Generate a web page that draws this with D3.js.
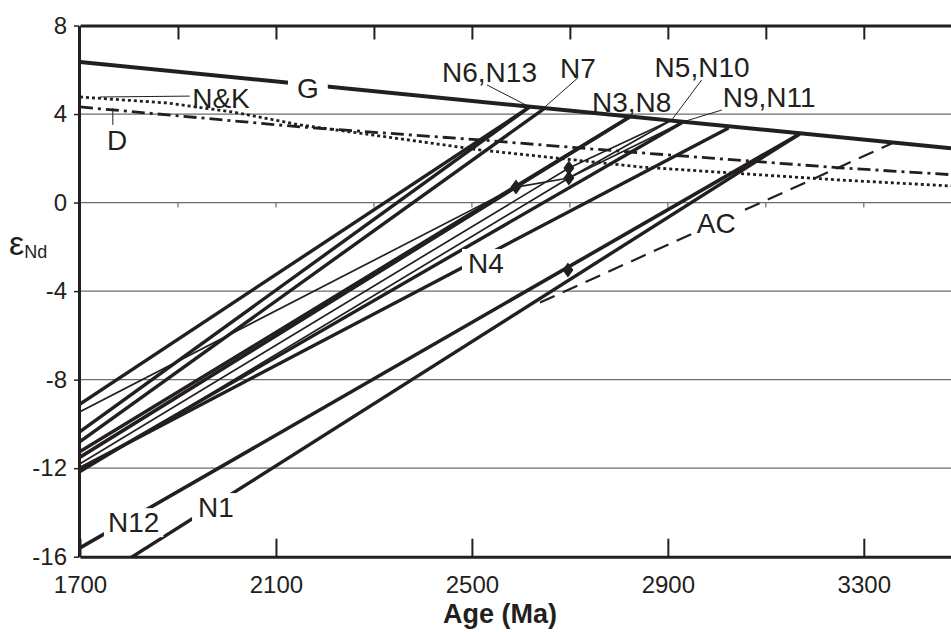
<!DOCTYPE html>
<html>
<head>
<meta charset="utf-8">
<script src="https://cdn.jsdelivr.net/npm/d3@7"></script>
<style>
body { margin: 0; background: #fff; }
text { font-family: "Liberation Sans", Arial, Helvetica, sans-serif; fill: #231f20; }
</style>
</head>
<body>
<div id="container"></div>
<script>
// axis ticks
const xTicks = [1700, 2100, 2500, 2900, 3300];
const topTicks = [1900, 2100, 2300, 2500, 2700, 2900, 3100, 3300];
const yTicks = [-16, -12, -8, -4, 0, 4, 8];
const gridValues = [-12, -8, -4, 0, 4];

// mantle evolution models [age Ma, eNd]
const modelG = [[1700, 6.35], [3478, 2.45]];
const modelD = [[1700, 4.32], [2149, 3.42], [2516, 2.83], [2843, 2.25], [3251, 1.57], [3478, 1.26]];
const modelNK = [[1700, 4.77], [1878, 4.50], [2012, 4.09], [2149, 3.51], [2516, 2.38], [2843, 1.61], [3027, 1.34], [3251, 1.02], [3478, 0.75]];

// sample evolution lines
const N1 = [[1700, -17.5], [3169, 3.10]];
const N3 = [[1700, -11.25], [2822, 3.87]];
const N4 = [[1700, -12.0], [3024, 3.37]];
const N5 = [[1700, -9.45], [2590, 0.70], [2698, 1.11], [2908, 3.73]];
const N6 = [[1700, -9.1], [2618, 4.32]];
const N7 = [[1700, -10.8], [2649, 4.27]];
const N8 = [[1700, -11.5], [2590, 0.70], [2822, 3.87]];
const N9 = [[1700, -12.1], [2931, 3.64]];
const N10 = [[1700, -11.8], [2698, 1.56], [2908, 3.73]];
const N11 = [[1700, -12.2], [2698, 1.11], [2931, 3.64]];
const N12 = [[1700, -15.6], [3169, 3.10]];
const N13 = [[1700, -10.35], [2618, 4.32]];
const AC = [[2639, -4.52], [3359, 2.69]];

// crystallisation ages
const diamonds = [[2590, 0.70], [2698, 1.56], [2698, 1.11], [2696, -3.05]];

const width = 951;
const height = 632;

const x = d3.scaleLinear([1700, 3478], [80, 951]);
const y = d3.scaleLinear([-16, 8], [556.7, 25.5]);
const line = d3.line().x(d => x(d[0])).y(d => y(d[1]));

const ink = "#231f20";

const svg = d3.create("svg")
    .attr("width", width)
    .attr("height", height)
    .attr("viewBox", [0, 0, width, height]);

// attach first so getBBox works for the label backgrounds
document.getElementById("container").append(svg.node());

svg.append("defs").append("clipPath").attr("id", "plot")
    .append("rect")
    .attr("x", x(1700)).attr("y", y(8))
    .attr("width", x(3478) - x(1700)).attr("height", y(-16) - y(8));

// grid lines
svg.append("g")
    .selectAll("line")
    .data(gridValues)
    .join("line")
    .attr("x1", x(1700)).attr("x2", x(3478))
    .attr("y1", d => y(d)).attr("y2", d => y(d))
    .attr("stroke", "#6d6d6d")
    .attr("stroke-width", 1.2);

// small ticks on the zero line
svg.append("g")
    .selectAll("line")
    .data(topTicks)
    .join("line")
    .attr("x1", d => x(d)).attr("x2", d => x(d))
    .attr("y1", y(0)).attr("y2", y(0) + 5)
    .attr("stroke", "#6d6d6d")
    .attr("stroke-width", 1.2);

const plot = svg.append("g").attr("clip-path", "url(#plot)");

// models
plot.append("path").attr("d", line(modelNK))
    .attr("fill", "none").attr("stroke", ink).attr("stroke-width", 2.8)
    .attr("stroke-dasharray", "3,3");
plot.append("path").attr("d", line(modelD))
    .attr("fill", "none").attr("stroke", ink).attr("stroke-width", 2.8)
    .attr("stroke-dasharray", "13,5,3,5");
plot.append("path").attr("d", line(modelG))
    .attr("fill", "none").attr("stroke", ink).attr("stroke-width", 4);

// samples
const samples = [
    {pts: N6, w: 3.4}, {pts: N13, w: 3.4}, {pts: N7, w: 3.4},
    {pts: N3, w: 3.4}, {pts: N8, w: 3.6}, {pts: N5, w: 1.7},
    {pts: N10, w: 1.7}, {pts: N9, w: 3.4}, {pts: N11, w: 1.7},
    {pts: N4, w: 3.4}, {pts: N12, w: 3.6}, {pts: N1, w: 3.4}
];

plot.append("g")
    .selectAll("path")
    .data(samples)
    .join("path")
    .attr("d", d => line(d.pts))
    .attr("fill", "none")
    .attr("stroke", ink)
    .attr("stroke-width", d => d.w)
    .attr("stroke-linejoin", "round");

plot.append("path").attr("d", line(AC))
    .attr("fill", "none").attr("stroke", ink).attr("stroke-width", 2.2)
    .attr("stroke-dasharray", "16,9");

plot.append("g")
    .selectAll("path")
    .data(diamonds)
    .join("path")
    .attr("transform", d => `translate(${x(d[0])},${y(d[1])})`)
    .attr("d", "M0,-7.5L5.5,0L0,7.5L-5.5,0Z")
    .attr("fill", ink);

// labels, some of them cut a gap into the line under them
const labels = [
    {text: "G", at: [2143, 4.73], pad: [9, 2]},
    {text: "N&K", at: [1929, 4.27]},
    {text: "D", at: [1755, 2.38]},
    {text: "N6,N13", at: [2439, 5.45]},
    {text: "N7", at: [2680, 5.63]},
    {text: "N3,N8", at: [2745, 4.09]},
    {text: "N5,N10", at: [2873, 5.67]},
    {text: "N9,N11", at: [3012, 4.32]},
    {text: "N4", at: [2492, -3.18], pad: [6, 3]},
    {text: "N12", at: [1757, -14.89], pad: [4, 3]},
    {text: "N1", at: [1941, -14.21], pad: [6, 3]},
    {text: "AC", at: [2959, -1.38], pad: [5, 3]}
];

const leaders = [
    [[1741, 4.77], [1924, 4.81]],
    [[1767, 4.27], [1767, 3.51]],
    [[2531, 5.31], [2618, 4.32]],
    [[2716, 5.63], [2649, 4.32]],
    [[2969, 5.54], [2908, 3.73]],
    [[3010, 4.18], [2924, 3.60]]
];

svg.append("g")
    .selectAll("path")
    .data(leaders)
    .join("path")
    .attr("d", d => line(d))
    .attr("fill", "none")
    .attr("stroke", ink)
    .attr("stroke-width", 1);

const lab = svg.append("g");
labels.forEach(l => {
    const t = lab.append("text")
        .attr("x", x(l.at[0]))
        .attr("y", y(l.at[1]))
        .attr("font-size", 28)
        .text(l.text);
    if (l.pad) {
        const b = t.node().getBBox();
        lab.insert("rect", "text")
            .attr("x", b.x - l.pad[0]).attr("y", b.y + 4 - l.pad[1])
            .attr("width", b.width + 2 * l.pad[0]).attr("height", b.height - 8 + 2 * l.pad[1])
            .attr("fill", "#fff");
    }
});

// axes
svg.append("g")
    .attr("transform", `translate(0,${y(8)})`)
    .call(d3.axisTop(x).tickValues(topTicks).tickSizeInner(-14).tickSizeOuter(0).tickFormat(""))
    .call(g => g.select(".domain").attr("stroke", ink).attr("stroke-width", 3))
    .call(g => g.selectAll(".tick line").attr("stroke", ink).attr("stroke-width", 2));

svg.append("g")
    .attr("transform", `translate(0,${y(-16)})`)
    .call(d3.axisBottom(x).tickValues(xTicks).tickSizeInner(-18).tickSizeOuter(0).tickPadding(19)
        .tickFormat(d => String(d)))
    .call(g => g.select(".domain").attr("stroke", ink).attr("stroke-width", 3))
    .call(g => g.selectAll(".tick line").attr("stroke", ink).attr("stroke-width", 2))
    .call(g => g.selectAll(".tick text").attr("font-size", 24).attr("font-family", null).attr("fill", ink));

svg.append("g")
    .attr("transform", `translate(${x(1700) - 1},0)`)
    .call(d3.axisLeft(y).tickValues(yTicks).tickSizeInner(5).tickSizeOuter(0).tickPadding(7)
        .tickFormat(d => String(d)))
    .call(g => g.select(".domain").attr("stroke", ink).attr("stroke-width", 3))
    .call(g => g.selectAll(".tick line").attr("stroke", ink).attr("stroke-width", 1.5))
    .call(g => g.selectAll(".tick text").attr("font-size", 24).attr("font-family", null).attr("fill", ink));

// axis titles
svg.append("text")
    .attr("x", 500).attr("y", 623)
    .attr("text-anchor", "middle")
    .attr("font-size", 27)
    .attr("font-weight", "bold")
    .text("Age (Ma)");

const yt = svg.append("text")
    .attr("x", 9).attr("y", 255)
    .attr("font-size", 34)
    .text("ε");
yt.append("tspan")
    .attr("font-size", 18)
    .attr("dy", 3)
    .text("Nd");
</script>
</body>
</html>
